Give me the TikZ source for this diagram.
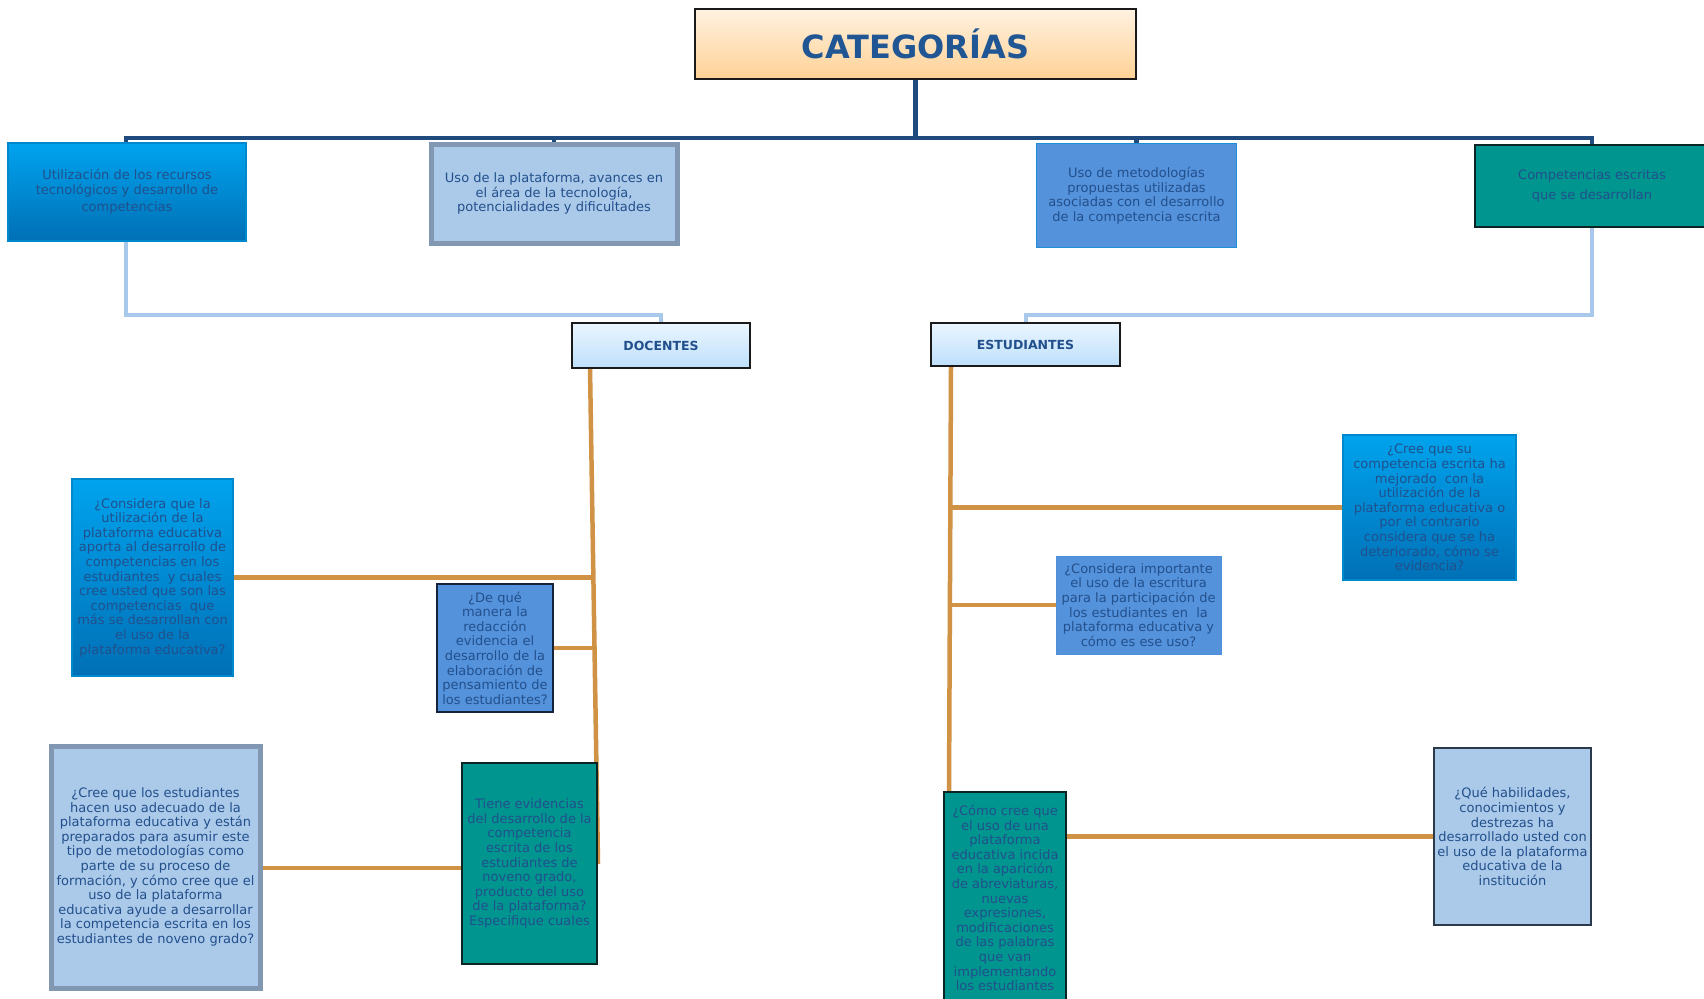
\documentclass[tikz,border=0pt]{standalone}
\usepackage{fontspec}
\setmainfont{DejaVu Sans}
\usetikzlibrary{calc}
\definecolor{txt}{HTML}{22508C}
\definecolor{titletxt}{HTML}{1F5693}
\definecolor{dkline}{HTML}{1F4A7E}
\definecolor{ltline}{HTML}{A9C9EC}
\definecolor{orline}{HTML}{D09245}
\definecolor{cyantop}{HTML}{00A3EE}
\definecolor{cyanbot}{HTML}{0070B6}
\definecolor{cyanbd}{HTML}{0088CC}
\definecolor{midblue}{HTML}{5592DC}
\definecolor{paleblue}{HTML}{ABC9E9}
\definecolor{palebd}{HTML}{8197B2}
\definecolor{teal}{HTML}{00958F}
\definecolor{tealbd}{HTML}{0B2424}
\definecolor{darkbd}{HTML}{1A1A1A}
\definecolor{bthreebd}{HTML}{1E8FD6}
\definecolor{qtwobd}{HTML}{15233A}
\definecolor{rtwobd}{HTML}{4D8FD8}
\definecolor{rfourbd}{HTML}{2B3A4A}
\definecolor{HdrTop}{HTML}{EAF6FF}
\definecolor{HdrBot}{HTML}{BEDFFB}
\definecolor{TitTop}{HTML}{FFF2E0}
\definecolor{TitBot}{HTML}{FFD195}
\pgfdeclarelayer{bg}
\pgfsetlayers{bg,main}
\begin{document}
\begin{tikzpicture}[x=1pt,y=-1pt,
  box/.style={align=center,inner sep=0pt,text=txt,font=\fontsize{13}{14.6}\selectfont},
  cyanbox/.style={box,draw=cyanbd,line width=1.5pt,top color=cyantop,bottom color=cyanbot},
  palebox/.style={box,draw=palebd,line width=5pt,fill=paleblue},
  midbox/.style={box,fill=midblue},
  tealbox/.style={box,fill=teal,draw=tealbd,line width=2pt},
  hdrbox/.style={draw=darkbd,line width=2pt,top color=HdrTop,bottom color=HdrBot,text=txt,font=\bfseries\fontsize{12.5}{14}\selectfont,inner sep=0pt},
  dk/.style={draw=dkline,line width=4.5pt},
  lt/.style={draw=ltline,line width=4pt},
  orl/.style={draw=orline,line width=4.5pt}
]
\useasboundingbox (0,0) rectangle (1704,998);

% title
\node[draw=darkbd,line width=2pt,top color=TitTop,bottom color=TitBot,minimum width=441pt,minimum height=70pt,inner sep=0pt,text=titletxt,font=\bfseries\fontsize{32}{36}\selectfont] (t) at (915.5,44) {CATEGORÍAS};

% categories
\node[cyanbox,minimum width=238pt,minimum height=98pt] (b1) at (127,192) {Utilización de los recursos\\tecnológicos y desarrollo de\\[3pt]competencias};
\node[palebox,minimum width=246pt,minimum height=99pt] (b2) at (554,193.5) {Uso de la plataforma, avances en\\el área de la tecnología,\\potencialidades y dificultades};
\node[midbox,draw=bthreebd,line width=1.5pt,minimum width=200pt,minimum height=104pt] (b3) at (1136.5,195.5) {Uso de metodologías\\propuestas utilizadas\\asociadas con el desarrollo\\de la competencia escrita};
\node[tealbox,line width=2.5pt,minimum width=234pt,minimum height=82pt] (b4) at (1592,186) {Competencias escritas\\[6pt]que se desarrollan};

% headers
\node[hdrbox,minimum width=178pt,minimum height=45pt] (doc) at (661,345.5) {DOCENTES};
\node[hdrbox,minimum width=189pt,minimum height=43pt] (est) at (1025.5,344.5) {ESTUDIANTES};

% docentes questions
\node[cyanbox,minimum width=161pt,minimum height=197pt] (q1) at (152.5,577.5) {¿Considera que la\\utilización de la\\plataforma educativa\\aporta al desarrollo de\\competencias en los\\estudiantes \ y cuales\\cree usted que son las\\competencias \ que\\más se desarrollan con\\el uso de la\\plataforma educativa?};
\node[midbox,draw=qtwobd,line width=2pt,minimum width=116pt,minimum height=128pt] (q2) at (495,648) {¿De qué\\manera la\\redacción\\evidencia el\\desarrollo de la\\elaboración de\\pensamiento de\\los estudiantes?};
\node[palebox,minimum width=209pt,minimum height=242pt] (q3) at (155.5,867) {¿Cree que los estudiantes\\hacen uso adecuado de la\\plataforma educativa y están\\preparados para asumir este\\tipo de metodologías como\\parte de su proceso de\\formación, y cómo cree que el\\uso de la plataforma\\educativa ayude a desarrollar\\la competencia escrita en los\\estudiantes de noveno grado?};
\node[tealbox,minimum width=135pt,minimum height=201pt] (q4) at (529.5,863.5) {Tiene evidencias\\del desarrollo de la\\competencia\\escrita de los\\estudiantes de\\noveno grado,\\producto del uso\\de la plataforma?\\Especifique cuales};

% estudiantes questions
\node[cyanbox,minimum width=173pt,minimum height=145pt] (r1) at (1429.5,507.5) {¿Cree que su\\competencia escrita ha\\mejorado \ con la\\utilización de la\\plataforma educativa o\\por el contrario\\considera que se ha\\deteriorado, cómo se\\evidencia?};
\node[midbox,draw=rtwobd,line width=1pt,minimum width=165pt,minimum height=98pt] (r2) at (1138.5,605) {¿Considera importante\\el uso de la escritura\\para la participación de\\los estudiantes en \ la\\plataforma educativa y\\cómo es ese uso?};
\node[tealbox,minimum width=122pt,minimum height=212pt] (r3) at (1005,898) {¿Cómo cree que\\el uso de una\\plataforma\\educativa incida\\en la aparición\\de abreviaturas,\\nuevas\\expresiones,\\modificaciones\\de las palabras\\que van\\implementando\\los estudiantes};
\node[box,fill=paleblue,draw=rfourbd,line width=2pt,minimum width=157pt,minimum height=177pt] (r4) at (1512.5,836.5) {¿Qué habilidades,\\conocimientos y\\destrezas ha\\desarrollado usted con\\el uso de la plataforma\\educativa de la\\institución};

\begin{pgfonlayer}{bg}
  \fill[white] (0,0) rectangle (1704,998);
  % top tree
  \coordinate (hub) at (t.south |- 0,138);
  \draw[dk] (t.south) -- (hub);
  \draw[dk] ([xshift=-1pt]b1.north) |- (hub) -| (b4.north);
  \draw[dk] (b2.north) -- (b2.north |- hub);
  \draw[dk] (b3.north) -- (b3.north |- hub);
  % light connectors
  \coordinate (lj) at (0,315);
  \draw[lt] ([xshift=-1pt]b1.south) |- (lj -| doc.north) -- (doc.north);
  \draw[lt] (b4.south) |- (lj -| est.north) -- (est.north);
  % docentes branch
  \coordinate (dtop) at (590,368);
  \coordinate (dbot) at (598,864);
  \draw[orl] (dtop) -- (dbot);
  \draw[orl] (q1.east) -- ++(359,0);
  \draw[orl] (q2.east) -- ++(39,0);
  \draw[orl] (q3.east |- 0,868) -- (q4.west |- 0,868);
  % estudiantes branch
  \coordinate (etop) at (951,366);
  \coordinate (ebot) at (949,792);
  \draw[orl] (etop) -- (ebot);
  \draw[orl] (r1.west) -- ++(-394,0);
  \draw[orl] (r2.west) -- ++(-107,0);
  \draw[orl] (r4.west) -- (r4.west -| r3.east);
\end{pgfonlayer}
\end{tikzpicture}
\end{document}
